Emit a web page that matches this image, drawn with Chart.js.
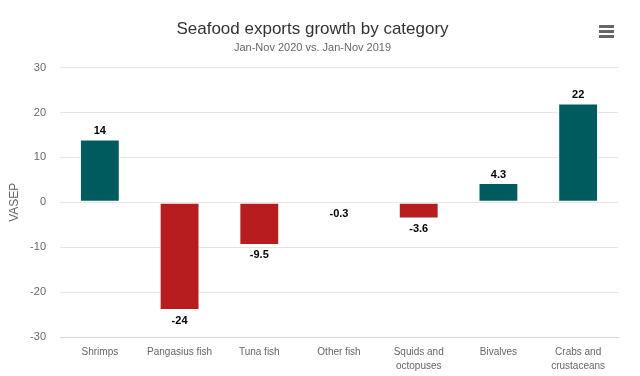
<!DOCTYPE html>
<html>
<head>
<meta charset="utf-8">
<script src="https://cdn.jsdelivr.net/npm/chart.js@4"></script>
<style>
  html, body { margin: 0; padding: 0; background: #fff; }
  #wrap { position: relative; width: 640px; height: 376px; }
  #menu { position: absolute; left: 599px; top: 25px; width: 15px; }
  #menu span { display: block; height: 3px; background: #666; margin-bottom: 2px; }
</style>
</head>
<body>
<div id="wrap">
  <canvas id="chart" width="640" height="376"></canvas>
  <div id="menu"><span></span><span></span><span></span></div>
</div>
<script>
// kategoriler ve değerler
var categories = ['Shrimps', 'Pangasius fish', 'Tuna fish', 'Other fish', ['Squids and', 'octopuses'], 'Bivalves', ['Crabs and', 'crustaceans']];
var growth = [14, -24, -9.5, -0.3, -3.6, 4.3, 22];
var yTicks = [-30, -20, -10, 0, 10, 20, 30];

var teal = '#005b5f';
var red = '#b71c1e';
var font = '"Liberation Sans", Arial, sans-serif';

// bar üstündeki değer etiketleri
var valueLabels = {
    id: 'valueLabels',
    afterDatasetsDraw: function (chart) {
        var ctx = chart.ctx;
        var meta = chart.getDatasetMeta(0);
        ctx.save();
        ctx.font = 'bold 11px ' + font;
        ctx.fillStyle = '#000';
        ctx.textAlign = 'center';
        meta.data.forEach(function (bar, i) {
            var v = growth[i];
            if (v >= 0) {
                ctx.textBaseline = 'bottom';
                ctx.fillText(String(v), bar.x, bar.y - 3);
            } else {
                ctx.textBaseline = 'top';
                ctx.fillText(String(v), bar.x, bar.y + 5);
            }
        });
        ctx.restore();
    }
};

var ctx = document.getElementById('chart').getContext('2d');
var myChart = new Chart(ctx, {
    type: 'bar',
    data: {
        labels: categories,
        datasets: [{
            label: 'VASEP',
            data: growth,
            backgroundColor: growth.map(function (v) { return v >= 0 ? teal : red; }),
            borderColor: '#fff',
            borderWidth: 1,
            borderSkipped: false,
            barPercentage: 0.5,
            categoryPercentage: 1
        }]
    },
    options: {
        responsive: false,
        animation: false,
        layout: { padding: { left: 7, right: 22, top: 0, bottom: 0 } },
        plugins: {
            legend: { display: false },
            tooltip: { enabled: false },
            title: {
                display: true,
                text: 'Seafood exports growth by category',
                color: '#333',
                font: { family: font, size: 17, weight: 'normal' },
                padding: { top: 19, bottom: 2 }
            },
            subtitle: {
                display: true,
                text: 'Jan-Nov 2020 vs. Jan-Nov 2019',
                color: '#666',
                font: { family: font, size: 11 },
                padding: { bottom: 13 }
            }
        },
        scales: {
            x: {
                grid: { display: false, drawTicks: false },
                border: { display: true, color: '#ccd6eb' },
                ticks: {
                    color: '#666',
                    font: { family: font, size: 10, lineHeight: 1.4 },
                    padding: 8,
                    maxRotation: 0,
                    autoSkip: false
                },
                afterFit: function (axis) { axis.height = 39; }
            },
            y: {
                min: -30,
                max: 30,
                afterBuildTicks: function (axis) {
                    axis.ticks = yTicks.map(function (v) { return { value: v }; });
                },
                grid: { color: '#e6e6e6', drawTicks: false },
                border: { display: false },
                ticks: {
                    color: '#666',
                    font: { family: font, size: 11 },
                    padding: 14
                },
                title: {
                    display: true,
                    text: 'VASEP',
                    color: '#666',
                    font: { family: font, size: 12 },
                    padding: { top: 0, bottom: 4 }
                },
                afterFit: function (axis) { axis.width = 53; }
            }
        }
    },
    plugins: [valueLabels]
});
</script>
</body>
</html>
